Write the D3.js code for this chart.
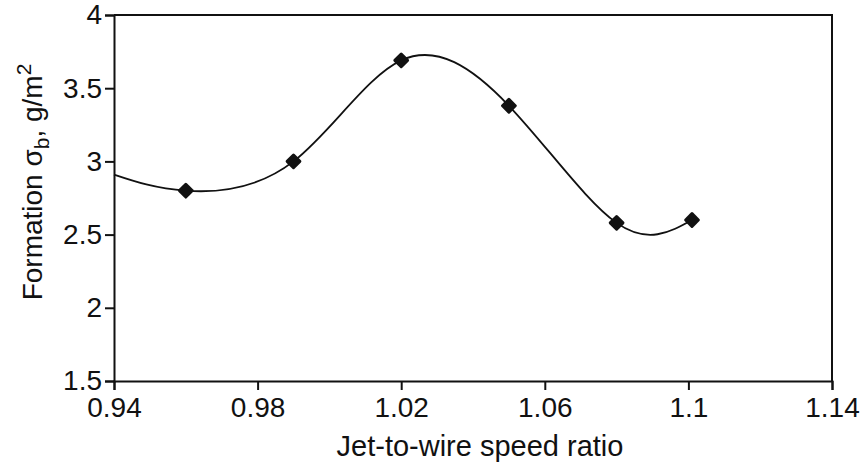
<!DOCTYPE html>
<html>
<head>
<meta charset="utf-8">
<script src="https://cdn.jsdelivr.net/npm/d3@7"></script>
<style>
  body { margin: 0; background: #fff; }
  text { font-family: "Liberation Sans", Arial, sans-serif; fill: #111; }
</style>
</head>
<body>
<script>
// svg size and plot box
var w = 867;
var h = 467;
var padLeft = 114, padRight = 832, padTop = 15, padBottom = 381;

// measured points (markers)
var speedRatio = [0.96, 0.99, 1.02, 1.05, 1.08, 1.101];
var formation = [2.8, 3.0, 3.69, 3.38, 2.58, 2.6];

// fitted curve, starts at the y axis
var curveX = [0.94, 0.96, 0.99, 1.02, 1.05, 1.08, 1.101];
var curveY = [2.91, 2.8, 3.0, 3.69, 3.38, 2.58, 2.6];

// tick labels
var xTicks = [0.94, 0.98, 1.02, 1.06, 1.1, 1.14];
var yTicks = [1.5, 2, 2.5, 3, 3.5, 4];

var svg = d3.select("body")
            .append("svg")
            .attr("width", w)
            .attr("height", h);

var x = d3.scaleLinear().domain([0.94, 1.14]).range([padLeft, padRight]);
var y = d3.scaleLinear().domain([1.5, 4]).range([padBottom, padTop]);

// frame (top and right sides)
svg.append("path")
   .attr("d", "M" + padLeft + "," + padTop + "H" + padRight + "V" + padBottom)
   .attr("fill", "none")
   .attr("stroke", "#111")
   .attr("stroke-width", 2);

// x axis
var xAxis = svg.append("g")
   .attr("transform", "translate(0," + padBottom + ")")
   .call(d3.axisBottom(x).tickValues(xTicks).tickSize(9).tickPadding(7)
           .tickFormat(d => String(+d.toFixed(2))));
xAxis.select(".domain").attr("stroke-width", 2).attr("stroke", "#111");
xAxis.selectAll(".tick line").attr("stroke-width", 2).attr("stroke", "#111");
xAxis.selectAll("text").style("font-size", "28px").attr("fill", "#111");

// y axis
var yAxis = svg.append("g")
   .attr("transform", "translate(" + padLeft + ",0)")
   .call(d3.axisLeft(y).tickValues(yTicks).tickSize(9).tickPadding(3)
           .tickFormat(d3.format("")));
yAxis.select(".domain").attr("stroke-width", 2).attr("stroke", "#111");
yAxis.selectAll(".tick line").attr("stroke-width", 2).attr("stroke", "#111");
yAxis.selectAll("text").style("font-size", "28px").attr("fill", "#111");

// axis titles
svg.append("text")
   .attr("x", 480)
   .attr("y", 456)
   .attr("text-anchor", "middle")
   .style("font-size", "29px")
   .text("Jet-to-wire speed ratio");

var yt = svg.append("text")
   .attr("transform", "translate(42,182) rotate(-90)")
   .attr("text-anchor", "middle")
   .style("font-size", "28px");
yt.append("tspan").text("Formation \u03c3");
yt.append("tspan").attr("dy", 7).style("font-size", "21px").text("b");
yt.append("tspan").attr("dy", -7).text(", g/m");
yt.append("tspan").attr("dy", -11).style("font-size", "21px").text("2");

// smooth curve
var curveData = curveX.map((d, i) => ({x: d, y: curveY[i]}));
var line = d3.line()
             .x(d => x(d.x))
             .y(d => y(d.y))
             .curve(d3.curveNatural);

svg.append("path")
   .datum(curveData)
   .attr("fill", "none")
   .attr("stroke", "#111")
   .attr("stroke-width", 1.8)
   .attr("d", line);

// diamond markers
var pts = speedRatio.map((d, i) => ({x: d, y: formation[i]}));
svg.selectAll(".marker")
   .data(pts)
   .enter().append("rect")
   .attr("class", "marker")
   .attr("x", -6).attr("y", -6)
   .attr("width", 12).attr("height", 12)
   .attr("rx", 1.5)
   .attr("fill", "#111")
   .attr("transform", d => "translate(" + x(d.x) + "," + y(d.y) + ") rotate(45)");
</script>
</body>
</html>
